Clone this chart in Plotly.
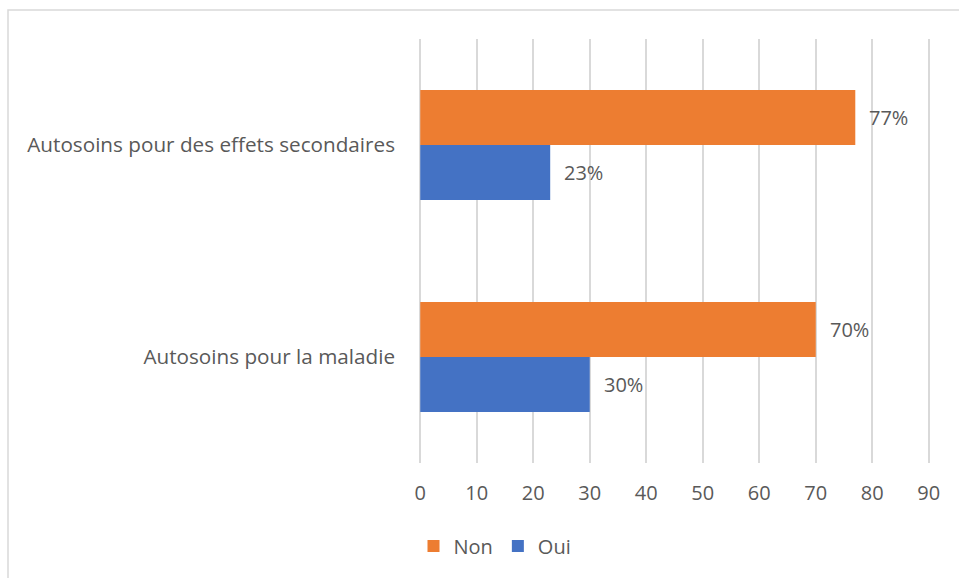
import plotly.graph_objects as go

categories = ["Autosoins pour la maladie", "Autosoins pour des effets secondaires"]
oui_values = [30, 23]
non_values = [70, 77]
x_ticks = [0, 10, 20, 30, 40, 50, 60, 70, 80, 90]

ORANGE = "#ED7D31"
BLUE = "#4472C4"
TEXT = "#595959"
FONT = "Open Sans"
SIZE = 20

# plot area: x from 418 to 931 px, y from 39 to 463 px
L, R, T, B = 418, 931, 39, 463
W, H = R - L, B - T

fig = go.Figure()
fig.add_trace(go.Bar(name="Oui", y=categories, x=oui_values, orientation="h",
                     marker=dict(color=BLUE, line=dict(width=0))))
fig.add_trace(go.Bar(name="Non", y=categories, x=non_values, orientation="h",
                     marker=dict(color=ORANGE, line=dict(width=0))))

# percentage labels beside each bar
bar_half = 27.5
for cat, v in zip(categories, non_values):
    fig.add_annotation(x=v, y=cat, xref="x", yref="y", text=f"{v}%",
                       showarrow=False, xanchor="left", yanchor="middle",
                       xshift=12, yshift=bar_half,
                       font=dict(family=FONT, size=SIZE, color=TEXT))
for cat, v in zip(categories, oui_values):
    fig.add_annotation(x=v, y=cat, xref="x", yref="y", text=f"{v}%",
                       showarrow=False, xanchor="left", yanchor="middle",
                       xshift=12, yshift=-bar_half,
                       font=dict(family=FONT, size=SIZE, color=TEXT))

# chart frame
fig.add_shape(type="rect", xref="paper", yref="paper",
              x0=(8 - L) / W, x1=1.2, y0=-0.5, y1=(B - 10) / H,
              line=dict(color="#D9D9D9", width=1.5), fillcolor="rgba(0,0,0,0)",
              layer="below")

fig.update_layout(
    width=959, height=578,
    margin=dict(l=L, r=959 - R, t=T, b=578 - B),
    paper_bgcolor="white", plot_bgcolor="white",
    barmode="group", bargap=0.48, bargroupgap=0,
    font=dict(family=FONT, size=SIZE, color=TEXT),
    showlegend=True,
    legend=dict(orientation="h", traceorder="reversed",
                x=(495 - L) / W, xanchor="center",
                y=(B - 546) / H, yanchor="middle",
                font=dict(family=FONT, size=SIZE, color=TEXT),
                itemwidth=30),
    xaxis=dict(range=[-0.4, 90.4], tickvals=x_ticks, showgrid=True,
               gridcolor="#D9D9D9", gridwidth=1.5, zeroline=False,
               showline=False, ticks="", ticklabelstandoff=16,
               tickfont=dict(family=FONT, size=SIZE, color=TEXT)),
    yaxis=dict(type="category", showgrid=False, zeroline=False,
               showline=False, ticks="", ticklabelstandoff=22,
               tickfont=dict(family=FONT, size=20.7, color=TEXT)),
)

fig.write_html("out.html")
